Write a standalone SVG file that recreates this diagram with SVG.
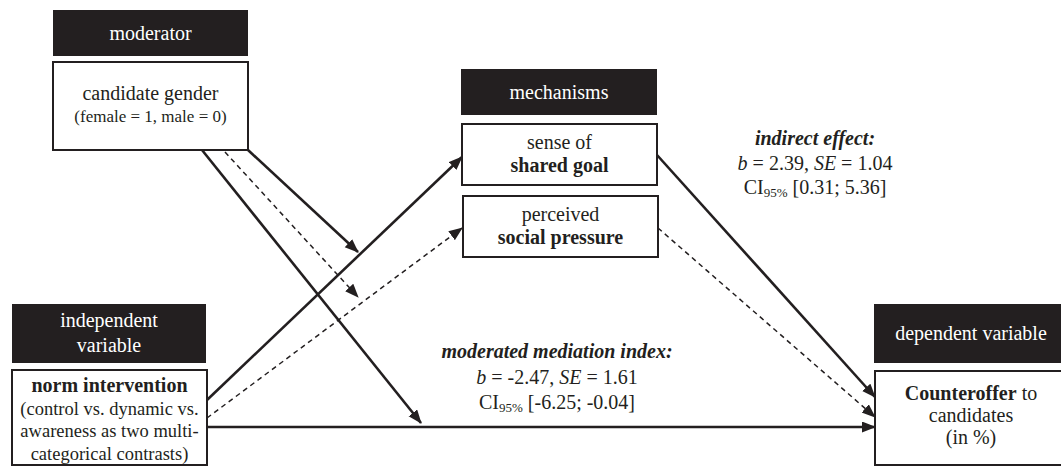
<svg xmlns="http://www.w3.org/2000/svg" width="1061" height="466" viewBox="0 0 1061 466">
<style>
text{font-family:"Liberation Serif","Times New Roman",serif;fill:#231f20;text-anchor:middle;font-size:20px}
.hdr{fill:#231f20;stroke:none}
.hdrt{fill:#ffffff}
.box{fill:#ffffff;stroke:#231f20;stroke-width:2}
.b{font-weight:bold}
.bi{font-weight:bold;font-style:italic}
.i{font-style:italic}
.sm{font-size:17px}
.md{font-size:18.5px}
.sub{font-size:13px}
.solid{stroke:#231f20;stroke-width:2.6;fill:none}
.dash{stroke:#231f20;stroke-width:1.5;fill:none;stroke-dasharray:5 4}
</style>
<defs>
<marker id="ah" markerUnits="userSpaceOnUse" markerWidth="14" markerHeight="12" refX="13" refY="5.5" orient="auto">
<path d="M0,0 L14,5.5 L0,11 z" fill="#231f20"/>
</marker>
</defs>
<rect width="1061" height="466" fill="#ffffff"/>
<g id="connectors">
<line class="solid" x1="248" y1="150" x2="358" y2="252" marker-end="url(#ah)"/>
<line class="dash" x1="225" y1="152" x2="358" y2="297" marker-end="url(#ah)"/>
<line class="solid" x1="202" y1="150" x2="421" y2="423" marker-end="url(#ah)"/>
<line class="solid" x1="207" y1="400" x2="462" y2="157" marker-end="url(#ah)"/>
<line class="dash" x1="207" y1="418" x2="462" y2="228" marker-end="url(#ah)"/>
<line class="solid" x1="207" y1="427" x2="875" y2="427" marker-end="url(#ah)"/>
<line class="solid" x1="657" y1="155" x2="875" y2="397" marker-end="url(#ah)"/>
<line class="dash" x1="658" y1="228" x2="875" y2="417" marker-end="url(#ah)"/>
</g>
<g id="moderator">
<rect class="hdr" x="53" y="10" width="195" height="46"/>
<text class="hdrt" x="150.5" y="40">moderator</text>
</g>
<g id="candidate-gender">
<rect class="box" x="53" y="62" width="195" height="88"/>
<text x="150.5" y="100">candidate gender</text>
<text class="sm" x="150.5" y="122">(female = 1, male = 0)</text>
</g>
<g id="mechanisms">
<rect class="hdr" x="461" y="69" width="196" height="46"/>
<text class="hdrt" x="559" y="99">mechanisms</text>
</g>
<g id="shared-goal">
<rect class="box" x="462" y="124" width="195" height="61"/>
<text x="559.5" y="149">sense of</text>
<text class="b" x="559.5" y="172">shared goal</text>
</g>
<g id="social-pressure">
<rect class="box" x="463" y="196" width="195" height="61"/>
<text x="560.5" y="221">perceived</text>
<text class="b" x="560.5" y="244">social pressure</text>
</g>
<g id="independent-variable">
<rect class="hdr" x="12" y="304" width="194" height="59"/>
<text class="hdrt" x="109" y="327">independent</text>
<text class="hdrt" x="109" y="352">variable</text>
</g>
<g id="norm-intervention">
<rect class="box" x="12" y="370" width="195" height="95"/>
<text class="b" x="109.5" y="392">norm intervention</text>
<text class="md" x="109.5" y="415">(control vs. dynamic vs.</text>
<text class="md" x="109.5" y="437">awareness as two multi-</text>
<text class="md" x="109.5" y="460">categorical contrasts)</text>
</g>
<g id="dependent-variable">
<rect class="hdr" x="874" y="304" width="195" height="59"/>
<text class="hdrt" x="971" y="340">dependent variable</text>
</g>
<g id="counteroffer">
<rect class="box" x="875" y="371" width="195" height="94"/>
<text x="971" y="400"><tspan class="b">Counteroffer</tspan> to</text>
<text x="971" y="422">candidates</text>
<text x="971" y="444">(in %)</text>
</g>
<g id="indirect-effect-label">
<text class="bi" x="815" y="145">indirect effect:</text>
<text x="815" y="170"><tspan class="i">b</tspan> = 2.39, <tspan class="i">SE</tspan> = 1.04</text>
<text x="815" y="194">CI<tspan class="sub" dy="3">95%</tspan><tspan dy="-3"> [0.31; 5.36]</tspan></text>
</g>
<g id="moderated-mediation-label">
<text class="bi" x="557" y="358">moderated mediation index:</text>
<text x="557" y="384"><tspan class="i">b</tspan> = -2.47, <tspan class="i">SE</tspan> = 1.61</text>
<text x="557" y="409">CI<tspan class="sub" dy="3">95%</tspan><tspan dy="-3"> [-6.25; -0.04]</tspan></text>
</g>
</svg>
